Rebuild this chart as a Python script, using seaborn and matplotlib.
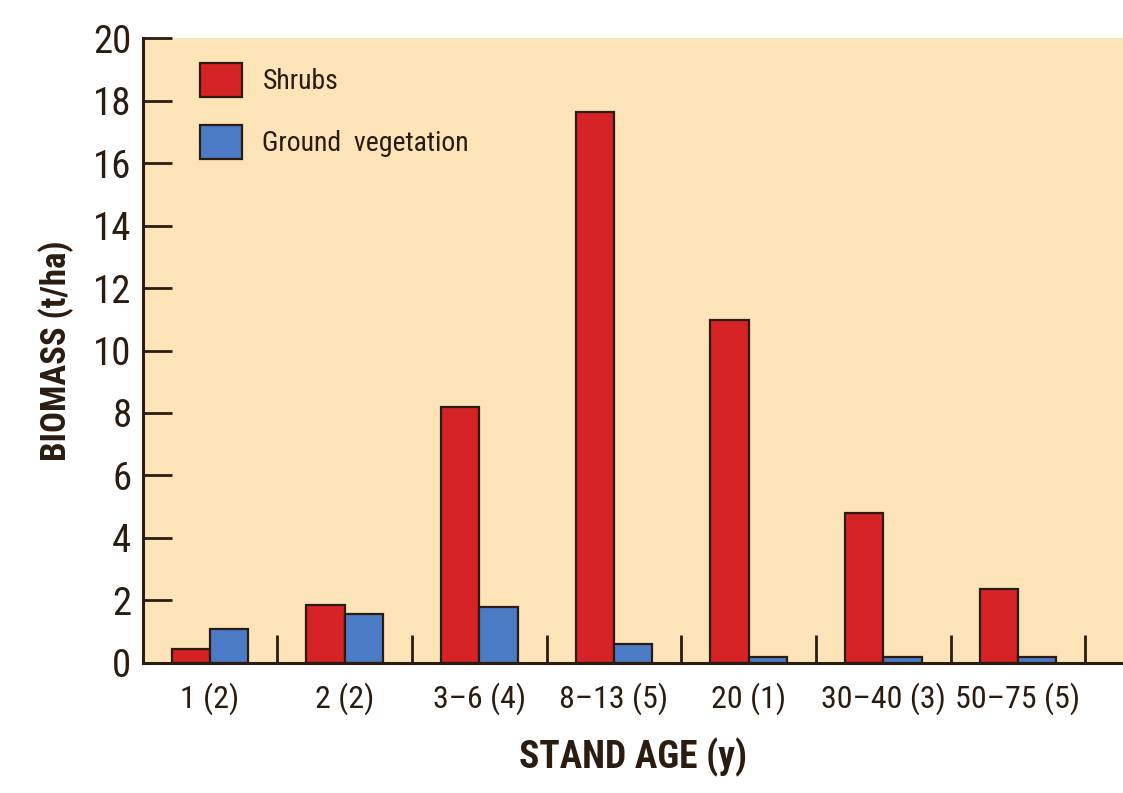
import matplotlib
matplotlib.use("Agg")
import matplotlib.pyplot as plt
import matplotlib.font_manager as fm
import seaborn as sns
import pandas as pd
import numpy as np

categories = ["1 (2)", "2 (2)", "3–6 (4)", "8–13 (5)", "20 (1)", "30–40 (3)", "50–75 (5)"]
shrubs = [0.45, 1.86, 8.2, 17.63, 10.97, 4.8, 2.37]
ground = [1.09, 1.57, 1.79, 0.6, 0.2, 0.2, 0.2]
series_names = ["Shrubs", "Ground  vegetation"]
yticks = [0, 2, 4, 6, 8, 10, 12, 14, 16, 18, 20]

sns.set_style("ticks")
names = {f.name for f in fm.fontManager.ttflist}
fam = [f for f in ["Liberation Sans Narrow", "DejaVu Sans Condensed", "Roboto Condensed"] if f in names] + ["DejaVu Sans"]
plt.rcParams["font.family"] = fam
if fam[0] == "DejaVu Sans":
    plt.rcParams["font.stretch"] = "condensed"

df = pd.DataFrame({
    "cat": categories * 2,
    "val": shrubs + ground,
    "series": [series_names[0]] * len(categories) + [series_names[1]] * len(categories),
})

dark = "#2a1c10"
fig = plt.figure(figsize=(11.23, 7.93), dpi=100)
ax = fig.add_axes([0.127, 0.164, 0.873, 0.788])
ax.set_facecolor("#fde4b8")

sns.barplot(data=df, x="cat", y="val", hue="series", order=categories,
            hue_order=series_names, palette=["#d62326", "#4a7bc4"],
            width=0.57, edgecolor=dark, linewidth=1.6, saturation=1, ax=ax)

ax.set_ylim(0, 20)
ax.set_xlim(-0.5, 6.78)
ax.set_yticks(yticks)
ax.set_yticklabels([str(v) for v in yticks], fontsize=28, color=dark)
ax.tick_params(axis="y", direction="in", length=21, width=2, color=dark, pad=8)
ax.tick_params(axis="x", which="major", length=0, pad=14, labelsize=23, labelcolor=dark)
ax.set_xticks(np.arange(len(categories)) + 0.5, minor=True)
ax.tick_params(axis="x", which="minor", direction="in", length=20, width=2, color=dark)

for s in ["top", "right"]:
    ax.spines[s].set_visible(False)
for s in ["left", "bottom"]:
    ax.spines[s].set_color(dark)
    ax.spines[s].set_linewidth(2.2)

ax.set_xlabel("STAND AGE (y)", fontsize=27, fontweight="bold", color=dark, labelpad=16)
ax.set_ylabel("BIOMASS (t/ha)", fontsize=25, fontweight="bold", color=dark, labelpad=14)

leg = ax.legend(loc="upper left", bbox_to_anchor=(0.033, 1.0), frameon=False,
                fontsize=20, handlelength=1.5, handleheight=1.5, labelspacing=1.0,
                handletextpad=0.75, labelcolor=dark)
for h in leg.legend_handles:
    h.set_edgecolor(dark)
    h.set_linewidth(1.6)

fig.savefig("out.png", dpi=100, facecolor="white")
